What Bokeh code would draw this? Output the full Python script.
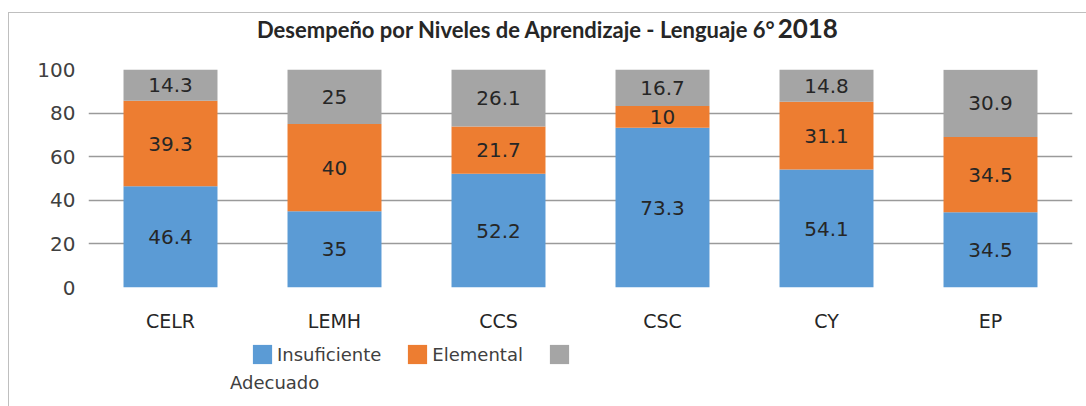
from bokeh.plotting import figure
from bokeh.models import ColumnDataSource, FactorRange, Range1d, Legend, LegendItem, FixedTicker, Div
from bokeh.layouts import column
from bokeh.embed import file_html
from bokeh.resources import INLINE
from bokeh.core.properties import value

categories = ["CELR", "LEMH", "CCS", "CSC", "CY", "EP"]
insuficiente = [46.4, 35, 52.2, 73.3, 54.1, 34.5]
elemental = [39.3, 40, 21.7, 10, 31.1, 34.5]
adecuado = [14.3, 25, 26.1, 16.7, 14.8, 30.9]
series_names = ["Insuficiente", "Elemental", "Adecuado"]
colors = ["#5B9BD5", "#ED7D31", "#A5A5A5"]
y_ticks = [0, 20, 40, 60, 80, 100]
title_main = "Desempeño por Niveles de Aprendizaje - Lenguaje 6°"
title_year = "2018"

FONT = "DejaVu Sans"
W = 1077
title_div = Div(text=('<div style="width:%dpx;height:30px;overflow:hidden;text-align:center;'
                      'font-family:Lato;font-weight:bold;color:#262626;line-height:30px;'
                      'white-space:nowrap;padding-left:7px">'
                      '<span style="font-size:22px;line-height:30px">%s</span> '
                      '<span style="font-size:26px;line-height:30px">%s</span></div>')
                % (W - 7, title_main, title_year),
                width=W, height=30, margin=0, styles={"overflow": "hidden"})

p = figure(x_range=FactorRange(*categories, range_padding=0), y_range=Range1d(0, 100),
           width=W, height=292, output_backend="svg", toolbar_location=None,
           min_border_left=79, min_border_right=14, min_border_top=26, min_border_bottom=48)
p.outline_line_color = None
p.background_fill_color = "white"
p.border_fill_color = "white"

src = ColumnDataSource(dict(cat=categories, ins=insuficiente, ele=elemental, ade=adecuado))
stack_cols = ["ins", "ele", "ade"]
renderers = p.vbar_stack(stack_cols, x="cat", width=0.573, source=src,
                         color=colors, line_color=None)

# label positions computed from the data
bottoms = [0] * len(categories)
for vals in [insuficiente, elemental, adecuado]:
    mids = [b + v / 2 for b, v in zip(bottoms, vals)]
    txt = [("%g" % v) for v in vals]
    ls = ColumnDataSource(dict(cat=categories, y=mids, t=txt))
    p.text(x="cat", y="y", text="t", source=ls, text_align="center", text_baseline="middle",
           text_font=value(FONT), text_font_size="20px", text_color="#262626")
    bottoms = [b + v for b, v in zip(bottoms, vals)]

p.yaxis.ticker = FixedTicker(ticks=y_ticks)
p.yaxis.axis_line_color = None
p.yaxis.major_tick_line_color = None
p.yaxis.minor_tick_line_color = None
p.yaxis.major_tick_out = 0
p.yaxis.major_label_text_font = FONT
p.yaxis.major_label_text_font_size = "20px"
p.yaxis.major_label_text_color = "#404040"
p.yaxis.major_label_standoff = 13

p.xaxis.axis_line_color = None
p.xaxis.major_tick_line_color = None
p.xaxis.major_tick_out = 0
p.xaxis.major_label_text_font = FONT
p.xaxis.major_label_text_font_size = "19px"
p.xaxis.major_label_text_color = "#262626"
p.xaxis.major_label_standoff = 22

p.xgrid.grid_line_color = None
p.ygrid.grid_line_color = "#9a9a9a"
p.ygrid.grid_line_width = 1.5
p.ygrid.level = "underlay"

# legend strip: same stacked series, drawn outside its visible y range, only the legend shows
lf = figure(width=W, height=35, output_backend="svg", toolbar_location=None,
            x_range=p.x_range, y_range=Range1d(1000, 1001), x_axis_type=None, y_axis_type=None,
            min_border_left=79, min_border_right=14, min_border_top=0, min_border_bottom=0)
lf.outline_line_color = None
lf.xgrid.grid_line_color = None
lf.ygrid.grid_line_color = None
lf.border_fill_color = "white"
lrs = lf.vbar_stack(stack_cols, x="cat", width=0.573, source=src, color=colors, line_color=None)
legend = Legend(items=[LegendItem(label=series_names[0], renderers=[lrs[0]]),
                       LegendItem(label=series_names[1], renderers=[lrs[1]]),
                       LegendItem(label=" ", renderers=[lrs[2]])],
                orientation="horizontal", location=(162, 4),
                padding=0, margin=0, spacing=24, label_standoff=3,
                glyph_width=24, glyph_height=24, label_height=24,
                label_text_font=FONT, label_text_font_size="18px",
                label_text_color="#404040", border_line_color=None, background_fill_alpha=0)
lf.add_layout(legend, "center")

adecuado_div = Div(text=('<div style="font-family:\'DejaVu Sans\';font-size:18px;color:#404040;'
                         'line-height:26px;height:26px;padding-left:221px">%s</div>') % series_names[2],
                   width=W, height=36, margin=0)

layout = column(title_div, p, lf, adecuado_div, spacing=0)
layout.styles = {"margin-left": "8px", "margin-top": "12px",
                 "border-left": "1px solid #bfbfbf", "border-top": "1px solid #bfbfbf",
                 "background-color": "white"}

open("out.html", "w").write(file_html(layout, INLINE))
